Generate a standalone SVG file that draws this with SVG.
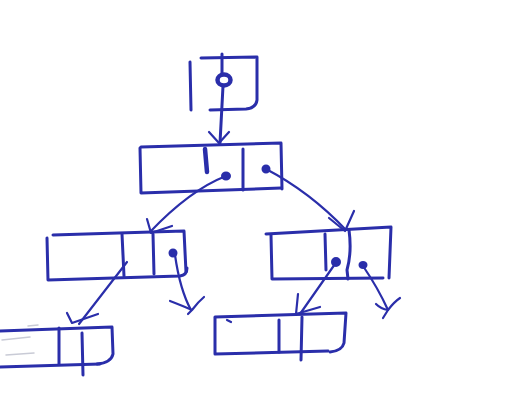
<svg xmlns="http://www.w3.org/2000/svg" width="519" height="403" viewBox="0 0 519 403">
  <style>
    .ink { fill: none; stroke: #2a2eaa; stroke-width: 3; stroke-linecap: round; stroke-linejoin: round; }
    .thin { stroke-width: 2.2; }
    .dot { fill: #2a2eaa; stroke: #2a2eaa; stroke-width: 2; }
    .faint { fill: none; stroke: #c9cbd6; stroke-width: 1.5; stroke-linecap: round; }
  </style>
  <rect width="519" height="403" fill="#ffffff"/>

  <!-- head pointer box -->
  <g id="head">
    <path class="ink" d="M190 62 L191 110"/>
    <path class="ink" d="M201 58 L257 57 L257 100 Q256 108 246 109 L210 110"/>
    <ellipse class="ink" cx="224" cy="80" rx="6.5" ry="5.5" style="stroke-width:4.5"/>
  </g>

  <!-- root node: [ key | left | right ] -->
  <g id="root">
    <path class="ink" d="M141 147 L281 143 L282 189"/>
    <path class="ink" d="M140 148 L141 193 L281 188"/>
    <path class="ink" d="M205 149 L207 172" style="stroke-width:4.5"/>
    <path class="ink" d="M243 149 L243 190"/>
    <ellipse class="dot" cx="226" cy="176" rx="4" ry="3.5"/>
    <ellipse class="dot" cx="266" cy="169" rx="3.5" ry="3.5"/>
  </g>

  <!-- left child -->
  <g id="left">
    <path class="ink" d="M53 235 L184 231 L186 272"/>
    <path class="ink" d="M47 238 L48 280 L180 276 Q187 275 187 268"/>
    <path class="ink" d="M122 234 L124 276"/>
    <path class="ink" d="M153 234 L154 274"/>
    <ellipse class="dot" cx="173" cy="253" rx="3.5" ry="3.5"/>
  </g>

  <!-- right child -->
  <g id="right">
    <path class="ink" d="M266 234 L391 227 L389 278"/>
    <path class="ink" d="M271 235 L272 279 L383 278"/>
    <path class="ink" d="M325 234 L326 270"/>
    <path class="ink" d="M349 230 Q352 252 347 270 L348 279"/>
    <ellipse class="dot" cx="336" cy="262" rx="4" ry="4"/>
    <ellipse class="dot" cx="363" cy="265" rx="3.5" ry="3"/>
  </g>

  <!-- left-left grandchild -->
  <g id="leftleft">
    <path class="ink" d="M0 331 L112 327 L113 354 Q111 363 97 364"/>
    <path class="ink" d="M0 367 L100 364"/>
    <path class="ink" d="M59 328 L59 364"/>
    <path class="ink" d="M82 333 L83 375"/>
    <path class="faint" d="M2 340 L30 337 M6 355 L34 353 M28 326 L38 325"/>
  </g>

  <!-- right-left grandchild -->
  <g id="rightleft">
    <path class="ink" d="M215 317 L346 313 L344 343 Q342 351 330 352"/>
    <path class="ink" d="M215 318 L215 354 L328 351"/>
    <path class="ink" d="M279 320 L279 352"/>
    <path class="ink" d="M302 317 L301 360"/>
    <path class="ink thin" d="M227 320 L231 322"/>
  </g>

  <!-- pointers -->
  <g id="connectors">
    <!-- head -> root -->
    <path class="ink" d="M222 54 L222 74 M223 86 L220 143"/>
    <path class="ink thin" d="M209 132 L219 143 L229 132"/>
    <!-- root.left -> left child -->
    <path class="ink thin" d="M226 176 Q190 190 150 232"/>
    <path class="ink thin" d="M147 219 L151 233 L172 226"/>
    <!-- root.right -> right child -->
    <path class="ink thin" d="M266 169 Q310 192 346 230"/>
    <path class="ink thin" d="M329 218 L345 231 L354 211"/>
    <!-- left.left -> left-left grandchild -->
    <path class="ink thin" d="M127 262 L79 324"/>
    <path class="ink thin" d="M67 313 L72 323 L98 314"/>
    <!-- left.right -> null -->
    <path class="ink thin" d="M175 255 Q180 290 191 310"/>
    <path class="ink thin" d="M170 301 Q183 306 192 310 Q198 302 204 297 M192 310 L188 314"/>
    <!-- right.left -> right-left grandchild -->
    <path class="ink thin" d="M335 264 L300 314"/>
    <path class="ink thin" d="M298 294 L296 314 L320 307"/>
    <!-- right.right -> null -->
    <path class="ink thin" d="M363 266 Q378 288 388 310 L383 318"/>
    <path class="ink thin" d="M376 304 Q381 309 388 310 Q394 302 400 298"/>
  </g>
</svg>
